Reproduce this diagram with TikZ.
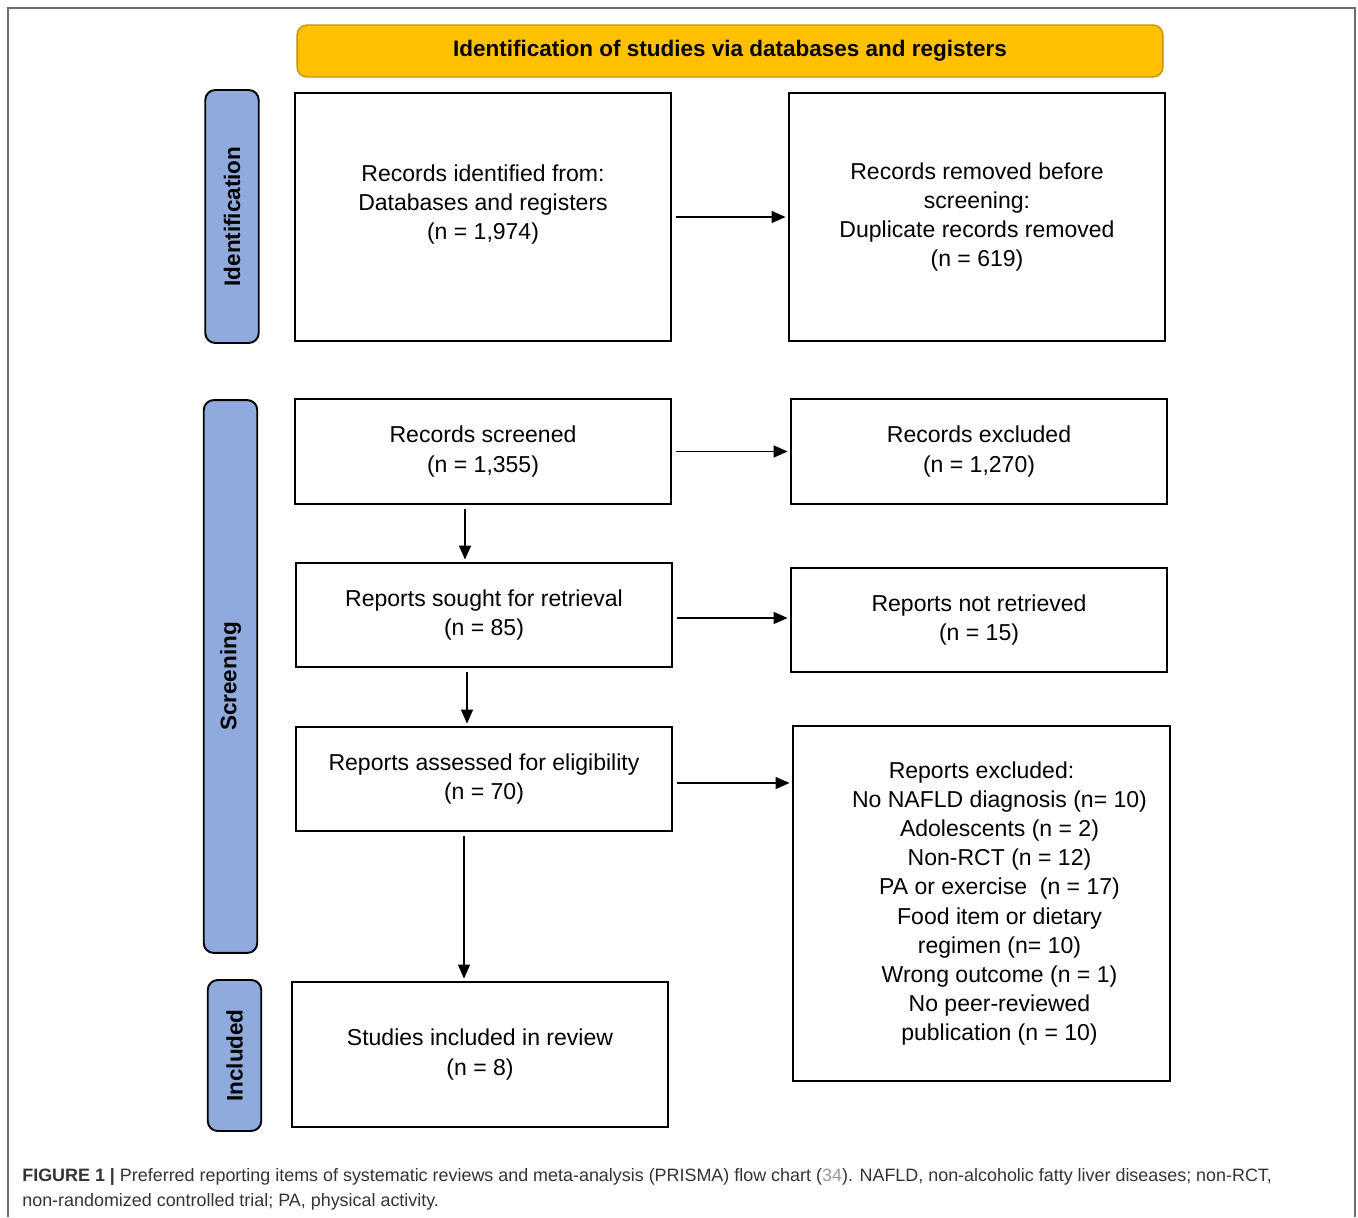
\documentclass[tikz,border=0pt]{standalone}
\usepackage{fontspec}
\setmainfont{Liberation Sans}
\usepackage{tikz}
\usetikzlibrary{arrows.meta, positioning}

\definecolor{headfill}{HTML}{FFC000}
\definecolor{headdraw}{HTML}{C49400}
\definecolor{sidefill}{HTML}{8FAADC}
\definecolor{framegray}{HTML}{6E6E6E}
\definecolor{capgray}{HTML}{333333}
\definecolor{refgray}{HTML}{9A9A9A}

\begin{document}
\begin{tikzpicture}
    [
      x=0.02cm, y=-0.02cm,
      boxtext/.style={align=center, font=\fontsize{13.1pt}{16.6pt}\selectfont},
      box/.style={boxtext, draw=black, line width=1.1pt, minimum width=7.52cm},
      side/.style={draw=black, line width=1.1pt, rounded corners=0.2cm,
        fill=sidefill, rotate=90, minimum height=1.07cm,
        font=\fontsize{12.8pt}{15pt}\selectfont\bfseries},
      head/.style={draw=headdraw, line width=0.8pt, rounded corners=0.2cm,
        fill=headfill, font=\fontsize{12.8pt}{15pt}\selectfont\bfseries},
      arrow/.style={line width=0.85pt, -{Triangle[length=0.28cm,width=0.24cm]},
        shorten <=0.08cm, shorten >=0.05cm},
      caption/.style={anchor=base west, inner sep=0pt, text=capgray,
        font=\fontsize{10.2pt}{14pt}\selectfont}
    ]
    \useasboundingbox (0,0) rectangle (1358,1217);
    \fill[white] (0,0) rectangle (1358,1217);
    % outer frame
    \draw[framegray, line width=0.8pt] (8,1217) -- (8,8) -- (1355,8) -- (1355,1217);
    % header
    \node [head, minimum width=17.32cm, minimum height=1.04cm] (top) at (730,51)
      {Identification of studies via databases and registers};
    % phases
    \node [side, minimum width=5.06cm] (ident) at (232,216.5) {Identification};
    \node [side, minimum width=11.06cm] (screen) at (230.5,676.5) {Screening};
    \node [side, minimum width=3.02cm] (incl) at (234.5,1055.5) {Included};
    % left column
    \node [box, minimum height=4.96cm] (found) at (483,217)
      {Records identified from:\\Databases and registers\\(n = 1,974)\\ };
    \node [box, minimum height=2.1cm] (screened) at (483,451.5)
      {Records screened\\(n = 1,355)};
    \node [box, minimum height=2.08cm] (sought) at (484,615)
      {Reports sought for retrieval\\(n = 85)};
    \node [box, minimum height=2.08cm] (assessed) at (484,779)
      {Reports assessed for eligibility\\(n = 70)};
    \node [box, minimum height=2.9cm] (studies) at (480,1054.5)
      {Studies included in review\\(n = 8)};
    % right column
    \node [box, minimum height=4.96cm] (removed) at (977,217)
      {Records removed before\\screening:\\Duplicate records removed\\(n = 619)};
    \node [box, minimum height=2.1cm] (excluded) at (979,451.5)
      {Records excluded\\(n = 1,270)};
    \node [box, minimum height=2.08cm] (notret) at (979,620)
      {Reports not retrieved\\(n = 15)};
    \node [box, minimum width=7.54cm, minimum height=7.1cm] (repexcl) at (981.5,903.5) {};
    \node [boxtext] (reasons) at ([xshift=0.36cm]repexcl.center)
      {Reports excluded:\hspace*{0.72cm}\\No NAFLD diagnosis (n= 10)\\Adolescents (n = 2)\\
       Non-RCT (n = 12)\\PA or exercise~~(n = 17)\\Food item or dietary\\
       regimen (n= 10)\\Wrong outcome (n = 1)\\No peer-reviewed\\
       publication (n = 10)};
    % horizontal arrows
    \draw [arrow] (found.east) -- (removed.west |- found.east);
    \draw [arrow] (screened.east) -- (excluded.west |- screened.east);
    \draw [arrow] ([yshift=-0.06cm]sought.east) -- ([yshift=-0.06cm]notret.west |- sought.east);
    \draw [arrow] ([yshift=-0.08cm]assessed.east) -- ([yshift=-0.08cm]repexcl.west |- assessed.east);
    % vertical arrows
    \draw [arrow] ([xshift=-0.36cm]screened.south) -- ([xshift=-0.36cm]screened.south |- sought.north);
    \draw [arrow] ([xshift=-0.34cm]sought.south) -- ([xshift=-0.34cm]sought.south |- assessed.north);
    \draw [arrow] ([xshift=-0.4cm]assessed.south) -- ([xshift=-0.4cm]assessed.south |- studies.north);
    % caption
    \node [caption] (cap1) at (22,1181)
      {\textbf{FIGURE 1 |} Preferred reporting items of systematic reviews and meta-analysis (PRISMA) flow chart ({\color{refgray}34}). NAFLD, non-alcoholic fatty liver diseases; non-RCT,};
    \node [caption] (cap2) at (22,1206)
      {non-randomized controlled trial; PA, physical activity.};
\end{tikzpicture}
\end{document}
